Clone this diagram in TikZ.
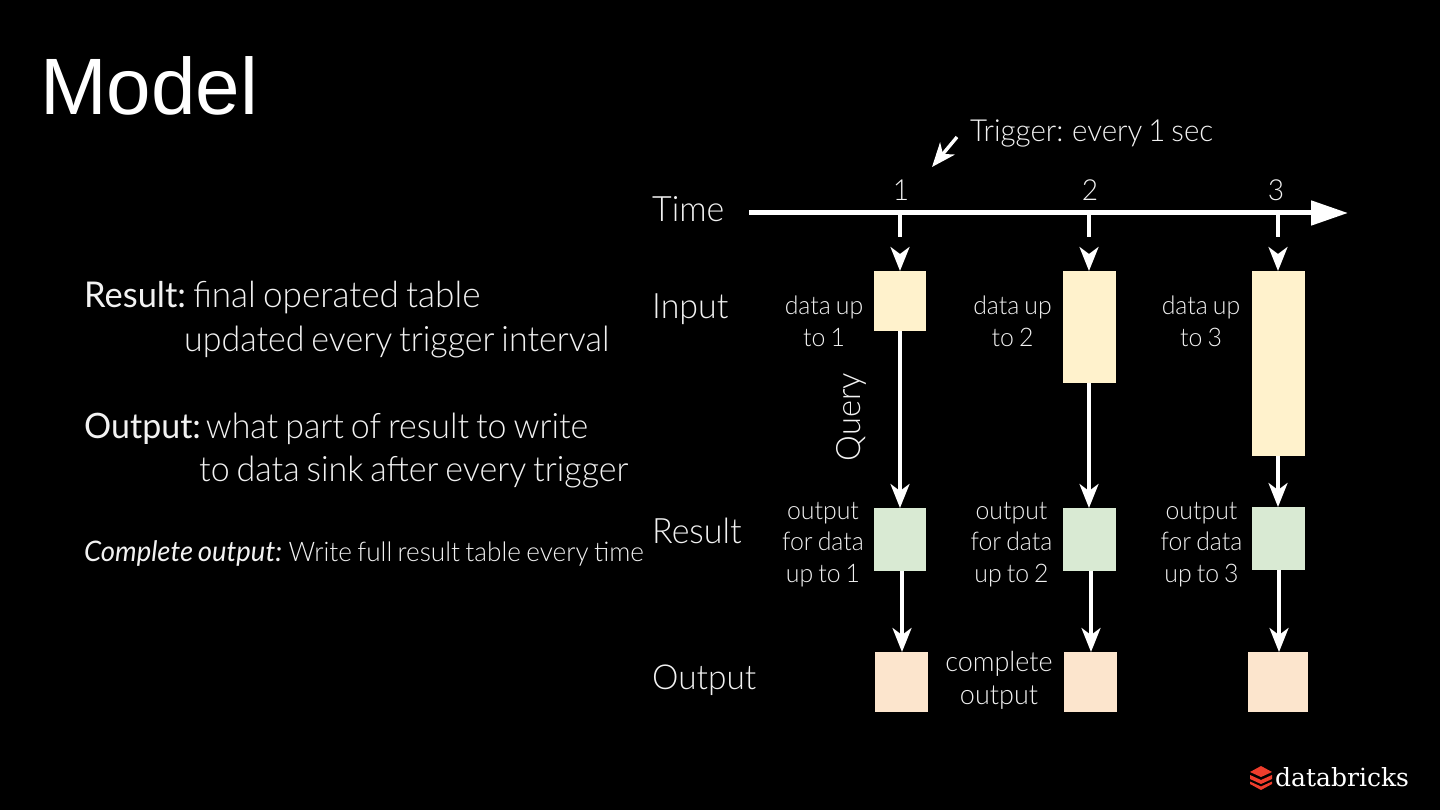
\documentclass[tikz,border=0pt]{standalone}
\usepackage{fontspec}
\setmainfont{Lato Light}[FakeStretch=0.97,WordSpace=0.75]
\newfontfamily\regf{Lato}[FakeStretch=0.97,WordSpace=0.75]
\newfontfamily\itf{Lato}[ItalicFont={Lato Italic},FakeStretch=0.97,WordSpace=0.75]
\newfontfamily\titlef{Liberation Sans}
\newfontfamily\logof{DejaVu Serif}
\usetikzlibrary{arrows.meta}
\definecolor{inbox}{HTML}{FFF2CC}
\definecolor{resbox}{HTML}{D9EAD3}
\definecolor{outbox}{HTML}{FCE5CD}
\definecolor{txt}{HTML}{F2F2F2}
\definecolor{logored}{HTML}{EE3D2C}
\newcommand{\fsz}[1]{\fontsize{#1pt}{#1pt}\selectfont}
\tikzset{
 x=1pt,y=-1pt,
 lbl/.style={text=txt,inner sep=0pt,anchor=base west,font=\fsz{35}},
 small/.style={text=txt,inner sep=0pt,anchor=base,align=center,font=\fontsize{25.6}{31.5}\selectfont},
 cell/.style={inner sep=0pt,draw=none,anchor=north west},
 inb/.style={cell,fill=inbox},
 resb/.style={cell,fill=resbox},
 outb/.style={cell,fill=outbox},
 arr/.style={draw=white,line width=3.4pt,-{Stealth[length=24pt,width=19pt,inset=7pt]}},
 tick/.style={arr,dash pattern=on 24pt off 60pt},
}
\begin{document}
\begin{tikzpicture}
\useasboundingbox[fill=black] (0,0) rectangle (1440,810);
\node[inner sep=0pt,anchor=base west,text=white,font=\titlef\fsz{80}] (title) at (40,115) {Model};

\node[lbl] (l1) at (84,307.5) {{\fsz{35.5}\regf Result:}\hspace{-3pt} {\fsz{36.2}final operated table}};
\node[lbl] (l2) at (184,351) {updated every trigger interval};
\node[lbl] (l3) at (84,438) {{\regf Output:}\hspace{-5pt} what part of result to write};
\node[lbl] (l4) at (199,481) {to data sink after every trigger};
\node[lbl,font=\fsz{27}] (l5) at (84,561) {{\fsz{28.3}\itf\itshape Complete output:}\hspace{-1pt} Write full result table every time};

\node[lbl] (time) at (652,222) {Time};
\node[lbl] (input) at (652,318) {Input};
\node[lbl] (result) at (652,543) {Result};
\node[lbl,font=\fsz{34.4}] (output) at (652,689) {Output};
\node[lbl,font=\fsz{30.4}] (trig) at (970,142) {Trigger: every 1 sec};
\node[small,font=\fsz{29}] (n1) at (901,201) {1};
\node[small,font=\fsz{29}] (n2) at (1090,201) {2};
\node[small,font=\fsz{29}] (n3) at (1276,201) {3};
\node[lbl,font=\fsz{33.6},rotate=90,anchor=base] (query) at (860,417) {Query};

\node[inb,minimum width=52pt,minimum height=60pt] (i1) at (874,271) {};
\node[inb,minimum width=53pt,minimum height=112pt] (i2) at (1063,271) {};
\node[inb,minimum width=53pt,minimum height=185pt] (i3) at (1252,271) {};
\node[resb,minimum width=52pt,minimum height=63pt] (r1) at (874,508) {};
\node[resb,minimum width=53pt,minimum height=63pt] (r2) at (1063,508) {};
\node[resb,minimum width=53pt,minimum height=63pt] (r3) at (1252,507) {};
\node[outb,minimum width=53pt,minimum height=60pt] (o1) at (875,652) {};
\node[outb,minimum width=53pt,minimum height=60pt] (o2) at (1064,652) {};
\node[outb,minimum width=60pt,minimum height=60pt] (o3) at (1248,652) {};

\node[small] (d1) at (824,346) {data up\\to 1};
\node[small] (d2) at (1012.5,346) {data up\\to 2};
\node[small] (d3) at (1201,346) {data up\\to 3};
\node[small] (e1) at (823,582) {output\\for data\\up to 1};
\node[small] (e2) at (1011.5,582) {output\\for data\\up to 2};
\node[small] (e3) at (1201.5,582) {output\\for data\\up to 3};
\node[small,font=\fontsize{27.8}{33}\selectfont] (c2) at (999,704) {complete\\output};

\coordinate (ax0) at (749,213);
\coordinate (ax1) at (1348,213);
\draw[draw=white,line width=5pt,-{Triangle[length=37pt,width=24pt]}] (ax0) -- (ax1);
\coordinate (t1) at (900,213);
\coordinate (t2) at (1089,213);
\coordinate (t3) at (1278,213);
\draw[tick] (t1) -- (i1.north -| t1);
\draw[tick] (t2) -- (i2.north -| t2);
\draw[tick] (t3) -- (i3.north -| t3);
\draw[arr] (i1.south -| t1) -- (r1.north -| t1);
\draw[arr] (i2.south -| t2) -- (r2.north -| t2);
\draw[arr] (i3.south -| t3) -- (r3.north -| t3);
\coordinate (s1) at (902,0);\coordinate (s2) at (1091,0);\coordinate (s3) at (1279,0);
\draw[arr] (r1.south -| s1) -- (o1.north -| s1);
\draw[arr] (r2.south -| s2) -- (o2.north -| s2);
\draw[arr] (r3.south -| s3) -- (o3.north -| s3);
\coordinate (ta) at (957,137);
\coordinate (tb) at (932,167);
\draw[arr] (ta) -- (tb);

% logo
\fill[logored] (1261,766) -- (1272,772) -- (1261,777) -- (1250,772) -- cycle;
\fill[logored] (1250,775) -- (1261,780) -- (1272,775) -- (1272,779) -- (1261,784) -- (1250,779) -- cycle;
\fill[logored] (1250,781.5) -- (1261,786.5) -- (1272,781.5) -- (1272,784) -- (1261,790) -- (1250,784) -- cycle;
\node[inner sep=0pt,anchor=base west,text=white,font=\logof\fsz{25}] (logo) at (1275,786) {databricks};
\end{tikzpicture}
\end{document}
